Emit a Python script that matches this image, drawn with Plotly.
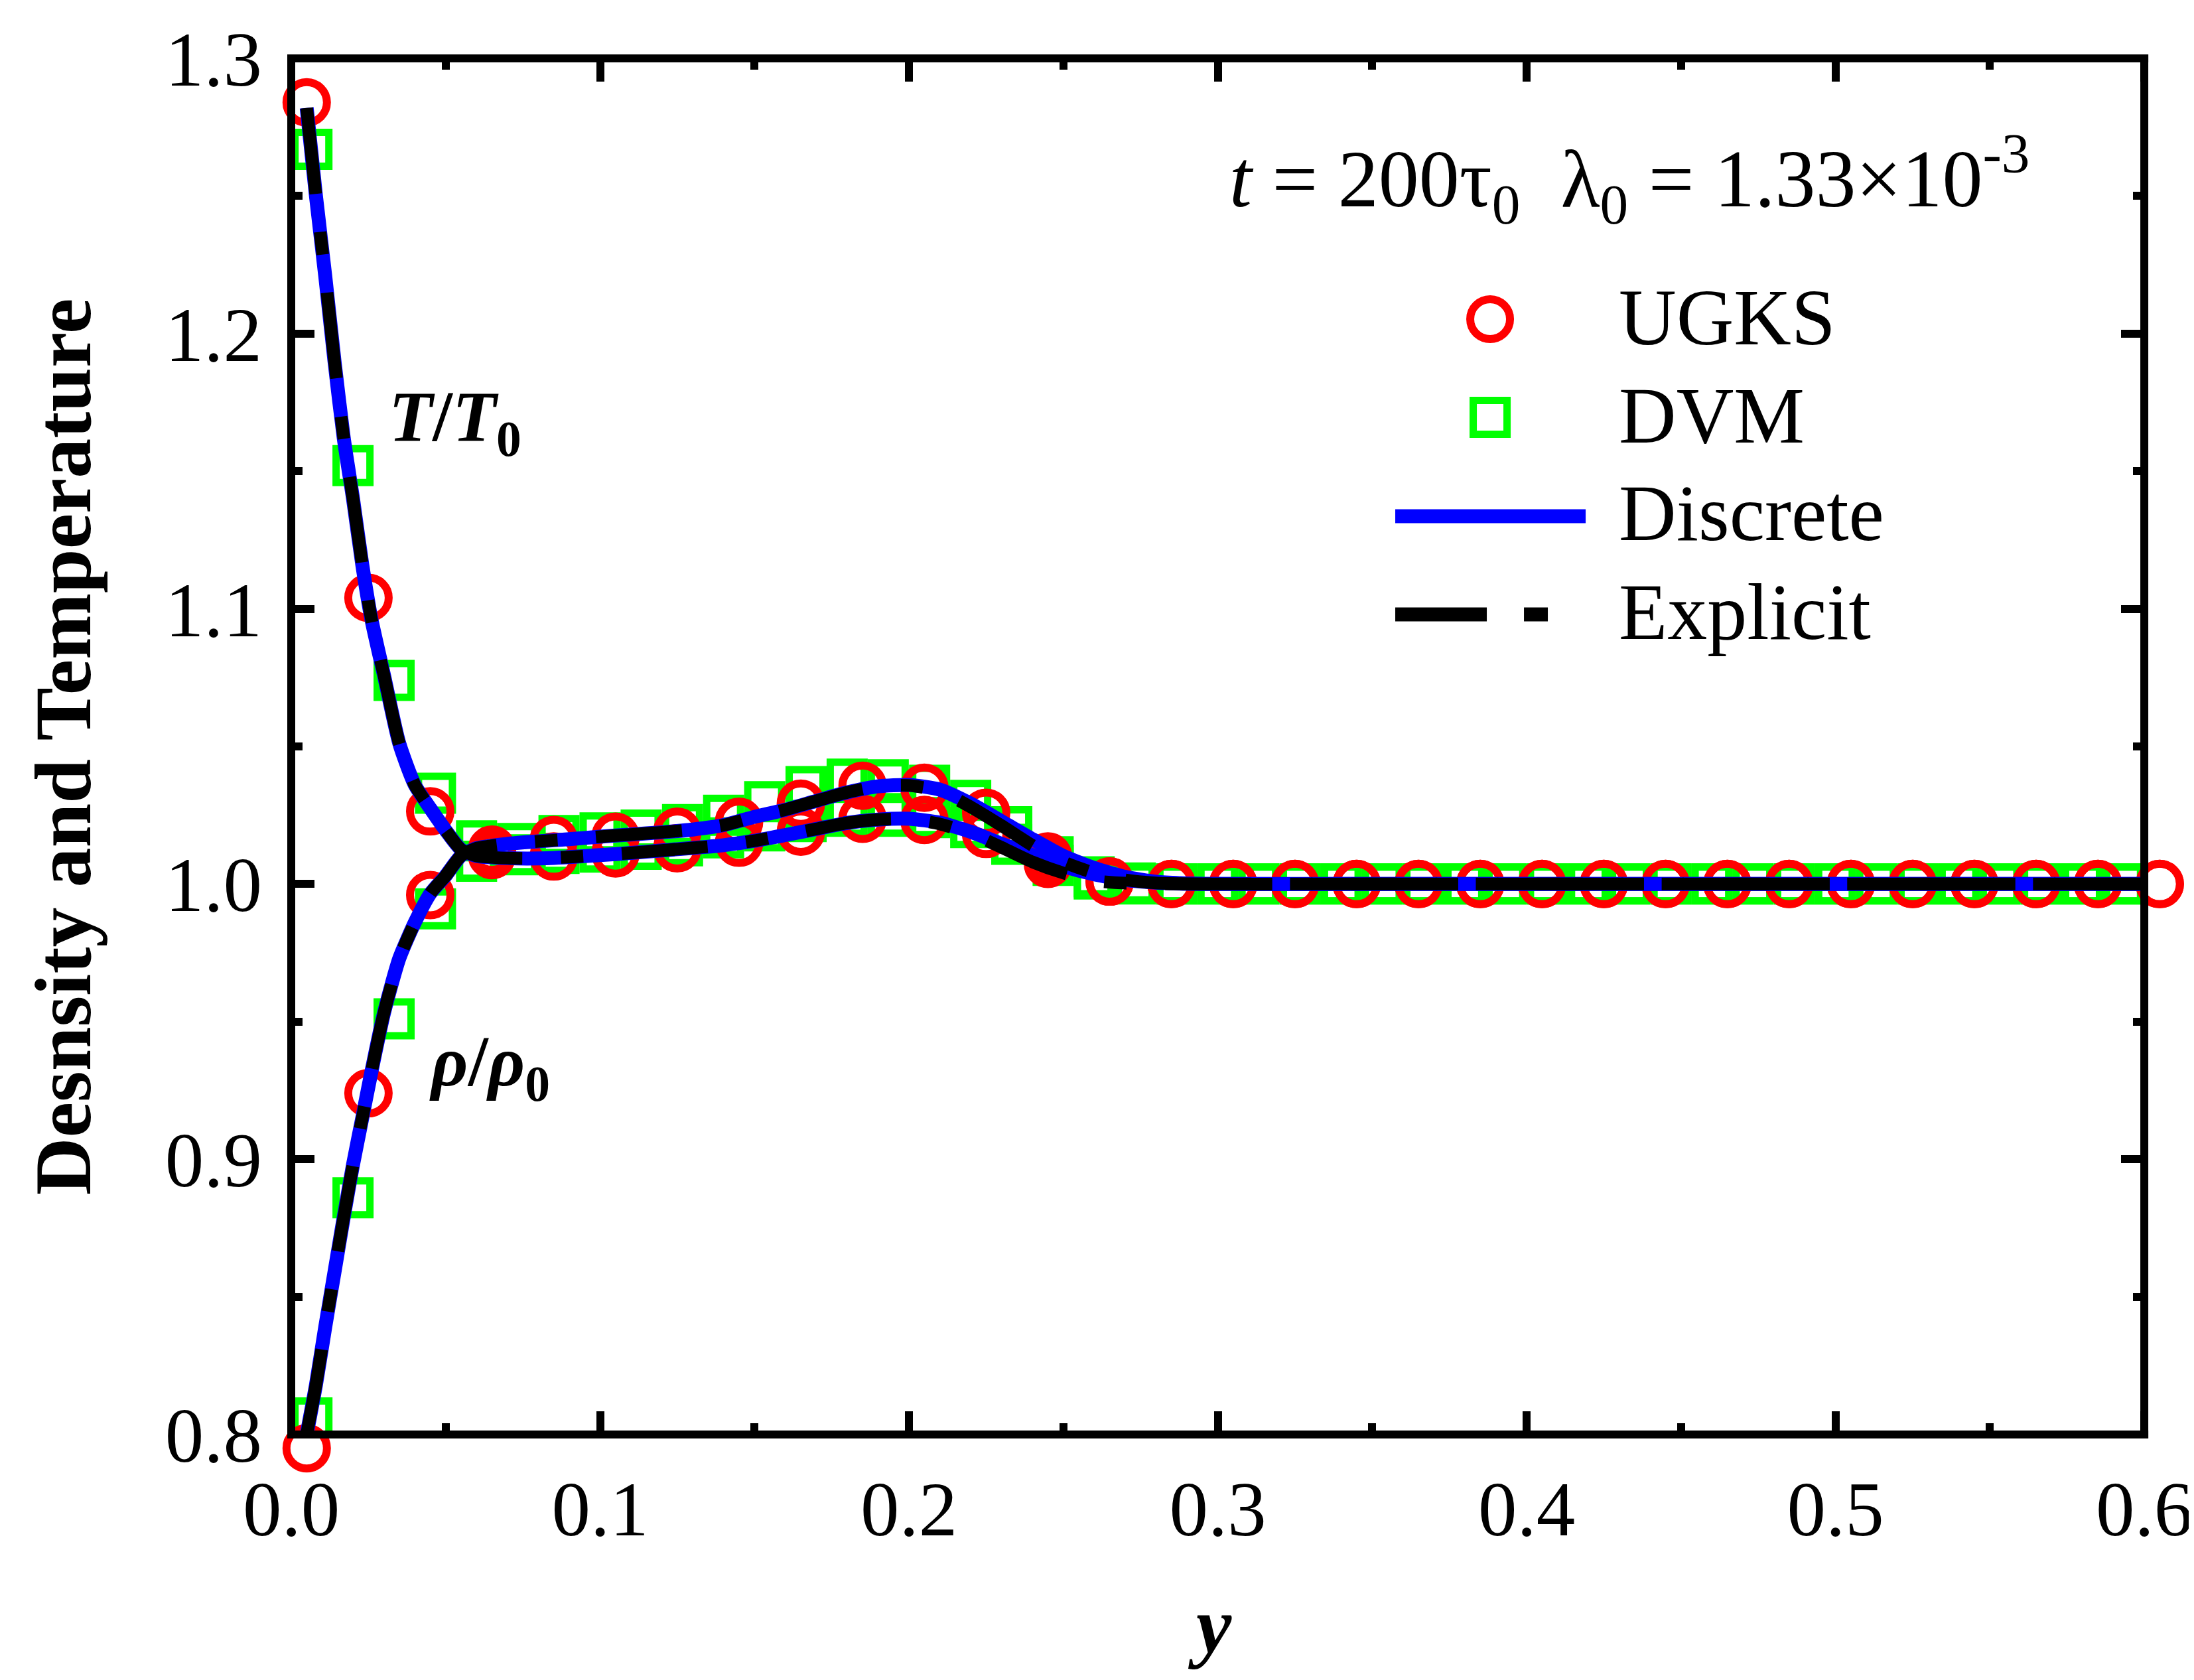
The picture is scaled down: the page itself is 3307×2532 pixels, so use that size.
import plotly.graph_objects as go

# UGKS: circles, two profiles on the same grid
ugks_y = [0.005, 0.025, 0.045, 0.065, 0.085, 0.105, 0.125, 0.145, 0.165, 0.185,
          0.205, 0.225, 0.245, 0.265, 0.285, 0.305, 0.325, 0.345, 0.365, 0.385,
          0.405, 0.425, 0.445, 0.465, 0.485, 0.505, 0.525, 0.545, 0.565, 0.585, 0.605]
ugks_rho = [0.795, 0.924, 0.996, 1.0125, 1.0160, 1.0172, 1.0190, 1.0226, 1.0292, 1.0357,
            1.0350, 1.0259, 1.0100, 1.0009, 1.0000, 1.0000, 1.0000, 1.0000, 1.0000, 1.0000,
            1.0000, 1.0000, 1.0000, 1.0000, 1.0000, 1.0000, 1.0000, 1.0000, 1.0000, 1.0000, 1.0000]
ugks_T = [1.284, 1.104, 1.0264, 1.0105, 1.0100, 1.0111, 1.0130, 1.0150, 1.0190, 1.0237,
          1.0233, 1.0182, 1.0073, 1.0009, 1.0000, 1.0000, 1.0000, 1.0000, 1.0000, 1.0000,
          1.0000, 1.0000, 1.0000, 1.0000, 1.0000, 1.0000, 1.0000, 1.0000, 1.0000, 1.0000, 1.0000]

# DVM: squares
dvm_y = [0.0067, 0.0200, 0.0333, 0.0467, 0.0600, 0.0733, 0.0867, 0.1000, 0.1133, 0.1267,
         0.1400, 0.1533, 0.1667, 0.1800, 0.1933, 0.2067, 0.2200, 0.2333, 0.2467, 0.2600,
         0.2733, 0.2867, 0.3000, 0.3133, 0.3267, 0.3400, 0.3533, 0.3667, 0.3800, 0.3933,
         0.4067, 0.4200, 0.4333, 0.4467, 0.4600, 0.4733, 0.4867, 0.5000, 0.5133, 0.5267,
         0.5400, 0.5533, 0.5667, 0.5800, 0.5933]
dvm_rho = [0.806, 0.886, 0.951, 0.991, 1.0157, 1.0147, 1.0176, 1.0186, 1.0196, 1.0216,
           1.0250, 1.0299, 1.0354, 1.0381, 1.0379, 1.0359, 1.0304, 1.0208, 1.0099, 1.0026,
           1.0004, 1.0000, 1.0000, 1.0000, 1.0000, 1.0000, 1.0000, 1.0000, 1.0000, 1.0000,
           1.0000, 1.0000, 1.0000, 1.0000, 1.0000, 1.0000, 1.0000, 1.0000, 1.0000, 1.0000,
           1.0000, 1.0000, 1.0000, 1.0000, 1.0000]
dvm_T = [1.267, 1.152, 1.074, 1.033, 1.0083, 1.0106, 1.0111, 1.0116, 1.0126, 1.0139,
         1.0168, 1.0193, 1.0227, 1.0246, 1.0246, 1.0241, 1.0205, 1.0144, 1.0068, 1.0018,
         1.0000, 1.0000, 1.0000, 1.0000, 1.0000, 1.0000, 1.0000, 1.0000, 1.0000, 1.0000,
         1.0000, 1.0000, 1.0000, 1.0000, 1.0000, 1.0000, 1.0000, 1.0000, 1.0000, 1.0000,
         1.0000, 1.0000, 1.0000, 1.0000, 1.0000]

# continuous profiles
line_y = [0.005, 0.008, 0.011, 0.014, 0.017, 0.020, 0.023, 0.026, 0.030, 0.035,
          0.040, 0.045, 0.050, 0.055, 0.060, 0.070, 0.080, 0.090, 0.100, 0.110,
          0.120, 0.130, 0.140, 0.150, 0.160, 0.170, 0.180, 0.190, 0.200, 0.210,
          0.220, 0.230, 0.240, 0.250, 0.260, 0.270, 0.280, 0.290, 0.300, 0.350,
          0.400, 0.450, 0.500, 0.550, 0.600]
disc_rho = [0.800, 0.818, 0.839, 0.859, 0.879, 0.898, 0.915, 0.932, 0.953, 0.973,
            0.986, 0.9965, 1.0030, 1.0103, 1.0130, 1.0146, 1.0155, 1.0163, 1.0172, 1.0180,
            1.0188, 1.0198, 1.0214, 1.0244, 1.0270, 1.0302, 1.0333, 1.0355, 1.0360, 1.0343,
            1.0292, 1.0228, 1.0163, 1.0102, 1.0058, 1.0026, 1.0008, 1.0002, 1.0000, 1.0000,
            1.0000, 1.0000, 1.0000, 1.0000, 1.0000]
disc_T = [1.282, 1.250, 1.221, 1.190, 1.162, 1.140, 1.116, 1.096, 1.076, 1.051,
          1.036, 1.0275, 1.0195, 1.0125, 1.0102, 1.0094, 1.0093, 1.0098, 1.0105, 1.0113,
          1.0122, 1.0131, 1.0141, 1.0157, 1.0178, 1.0200, 1.0222, 1.0234, 1.0237, 1.0223,
          1.0190, 1.0146, 1.0105, 1.0065, 1.0035, 1.0015, 1.0005, 1.0001, 1.0000, 1.0000,
          1.0000, 1.0000, 1.0000, 1.0000, 1.0000]
expl_rho = [0.800, 0.818, 0.839, 0.859, 0.879, 0.898, 0.915, 0.932, 0.953, 0.973,
            0.986, 0.9965, 1.0030, 1.0103, 1.0130, 1.0146, 1.0155, 1.0163, 1.0172, 1.0180,
            1.0188, 1.0198, 1.0214, 1.0244, 1.0270, 1.0302, 1.0333, 1.0355, 1.0358, 1.0338,
            1.0280, 1.0212, 1.0140, 1.0080, 1.0040, 1.0015, 1.0004, 1.0001, 1.0000, 1.0000,
            1.0000, 1.0000, 1.0000, 1.0000, 1.0000]
expl_T = [1.282, 1.250, 1.221, 1.190, 1.162, 1.140, 1.116, 1.096, 1.076, 1.051,
          1.036, 1.0275, 1.0195, 1.0125, 1.0102, 1.0094, 1.0093, 1.0098, 1.0105, 1.0113,
          1.0122, 1.0131, 1.0141, 1.0157, 1.0178, 1.0200, 1.0222, 1.0234, 1.0236, 1.0218,
          1.0184, 1.0133, 1.0080, 1.0040, 1.0012, 1.0003, 1.0001, 1.0000, 1.0000, 1.0000,
          1.0000, 1.0000, 1.0000, 1.0000, 1.0000]

FONT = "Liberation Serif, Times New Roman, serif"
W, H = 3307, 2532
L, T = 431, 80                     # frame left / top in pixels
# the axes run a little past the frame so edge markers (0.605, 0.795) are kept
XMAX, XFRAME = 0.6075, 0.6
YMIN, YFRAME, YMAX = 0.7925, 0.8, 1.3
PW = 4655 * XMAX                   # plot width, px
PH = 4148 * (YMAX - YMIN)          # plot height, px
P = XFRAME / XMAX                  # paper x of right frame
Q = (YFRAME - YMIN) / (YMAX - YMIN)  # paper y of bottom frame


def px(x):
    return (x - L) / PW


def py(y):
    return (T + PH - y) / PH


fig = go.Figure()

mk_dvm = dict(symbol="square-open", size=51, color="#00FF00", line=dict(width=11, color="#00FF00"))
mk_ugks = dict(symbol="circle-open", size=61, color="#FF0000", line=dict(width=12, color="#FF0000"))

for vals in (dvm_rho, dvm_T):
    fig.add_trace(go.Scatter(x=dvm_y, y=vals, mode="markers", marker=mk_dvm,
                             cliponaxis=False, showlegend=False, name="DVM"))
for vals in (ugks_rho, ugks_T):
    fig.add_trace(go.Scatter(x=ugks_y, y=vals, mode="markers", marker=mk_ugks,
                             cliponaxis=False, showlegend=False, name="UGKS"))
for vals in (disc_rho, disc_T):
    fig.add_trace(go.Scatter(x=line_y, y=vals, mode="lines",
                             line=dict(color="#0000FF", width=21, shape="spline", smoothing=0.6),
                             showlegend=False, name="Discrete"))
for vals in (expl_rho, expl_T):
    fig.add_trace(go.Scatter(x=line_y, y=vals, mode="lines",
                             line=dict(color="black", width=19, dash="130px,58px,34px,58px",
                                       shape="spline", smoothing=0.6),
                             showlegend=False, name="Explicit"))

# empty traces so the top and right tick axes get drawn
fig.add_trace(go.Scatter(x=[None], y=[None], xaxis="x2", yaxis="y", showlegend=False, hoverinfo="skip"))
fig.add_trace(go.Scatter(x=[None], y=[None], xaxis="x", yaxis="y2", showlegend=False, hoverinfo="skip"))

tick_style = dict(
    ticks="inside", ticklen=35, tickwidth=12, tickcolor="black",
    showline=False, showgrid=False, zeroline=False, tickformat=".1f", automargin=False,
    tickfont=dict(family=FONT, size=117, color="black"),
    minor=dict(ticks="inside", ticklen=17, tickwidth=12, tickcolor="black", dtick=0.05, showgrid=False),
)
xr = dict(range=[0, XMAX], tick0=0, dtick=0.1)
yr = dict(range=[YMIN, YMAX], tick0=0, dtick=0.1)

fig.update_layout(
    width=W, height=H,
    margin=dict(l=L, r=W - L - PW, t=T, b=H - T - PH),
    paper_bgcolor="white", plot_bgcolor="white",
    xaxis=dict(anchor="free", position=Q, ticklabelstandoff=34, **xr, **tick_style),
    yaxis=dict(ticklabelstandoff=43, **yr, **tick_style),
    xaxis2=dict(overlaying="x", side="top", anchor="y", showticklabels=False, **xr, **tick_style),
    yaxis2=dict(overlaying="y", side="right", anchor="free", position=P, showticklabels=False,
                **yr, **tick_style),
    font=dict(family=FONT, color="black"),
)

ann = []
# axis titles
ann.append(dict(text="<b>Desnsity and Temperature</b>", x=px(88), y=py(1117), textangle=-90,
                font=dict(size=120)))
ann.append(dict(text="<b><i>y</i></b>", x=px(1815), y=py(2442), font=dict(size=120)))
# curve labels
ann.append(dict(text="<b><i>T</i>/<i>T</i><sub>0</sub></b>", x=px(576), y=py(628),
                xanchor="left", font=dict(size=108)))
ann.append(dict(text="<b><i>ρ</i>/<i>ρ</i><sub>0</sub></b>", x=px(637), y=py(1600),
                xanchor="left", font=dict(size=108)))
# parameters
ann.append(dict(text="<i>t</i> = 200τ<sub>0</sub>\u00a0\u00a0λ<sub>0</sub> = 1.33×10<sup>-3</sup>",
                x=px(1843), y=py(262), xanchor="left", font=dict(size=122)))
# legend labels
for label, yy in (("UGKS", 471), ("DVM", 619), ("Discrete", 766), ("Explicit", 915)):
    ann.append(dict(text=label, x=px(2430), y=py(yy), xanchor="left", font=dict(size=120)))

for a in ann:
    a.setdefault("xanchor", "center")
    a.setdefault("yanchor", "middle")
    a.update(xref="paper", yref="paper", showarrow=False)
    a["font"].update(family=FONT, color="black")
fig.update_layout(annotations=ann)

frame = dict(color="black", width=12)
hx, hy = 6 / PW, 6 / PH
shapes = [
    # frame
    dict(type="line", xref="paper", yref="paper", x0=-hx, x1=P + hx, y0=Q, y1=Q, line=frame),
    dict(type="line", xref="paper", yref="paper", x0=-hx, x1=P + hx, y0=1, y1=1, line=frame),
    dict(type="line", xref="paper", yref="paper", x0=0, x1=0, y0=Q - hy, y1=1 + hy, line=frame),
    dict(type="line", xref="paper", yref="paper", x0=P, x1=P, y0=Q - hy, y1=1 + hy, line=frame),
    # legend keys
    dict(type="circle", xref="paper", yref="paper", xsizemode="pixel", ysizemode="pixel",
         xanchor=px(2238), yanchor=py(473), x0=-30, x1=30, y0=-30, y1=30,
         line=dict(color="#FF0000", width=12)),
    dict(type="rect", xref="paper", yref="paper", xsizemode="pixel", ysizemode="pixel",
         xanchor=px(2238), yanchor=py(621), x0=-25.5, x1=25.5, y0=-25.5, y1=25.5,
         line=dict(color="#00FF00", width=11)),
    dict(type="line", xref="paper", yref="paper", x0=px(2095), x1=px(2382), y0=py(770), y1=py(770),
         line=dict(color="#0000FF", width=21)),
    dict(type="line", xref="paper", yref="paper", x0=px(2095), x1=px(2325), y0=py(918), y1=py(918),
         line=dict(color="black", width=21, dash="138px,56px,36px,56px")),
]
fig.update_layout(shapes=shapes)

fig.write_html("out.html")
